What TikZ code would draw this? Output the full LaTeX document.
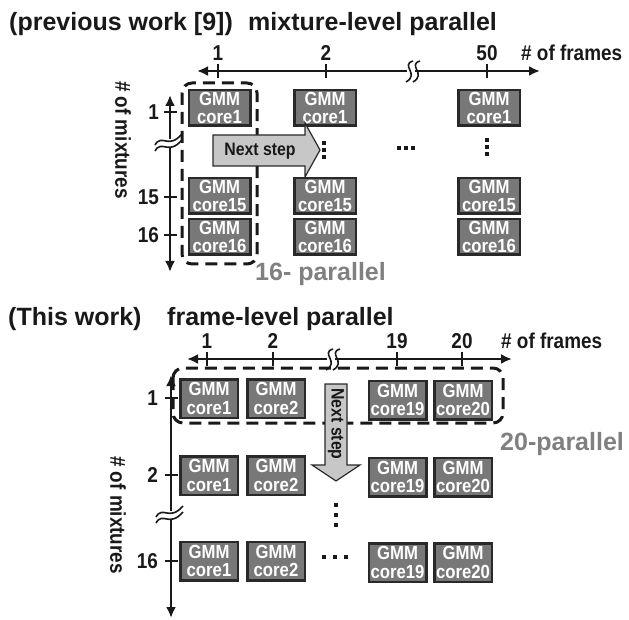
\documentclass[tikz,border=0pt]{standalone}
\usepackage{fontspec}
\setmainfont{Liberation Sans}
\newfontfamily\narrowsans[FakeStretch=0.88]{Liberation Sans}
\usetikzlibrary{arrows.meta}
\definecolor{boxgray}{gray}{0.47}
\definecolor{boxedge}{gray}{0.16}
\definecolor{txtgray}{gray}{0.5}
\definecolor{arrowfill}{gray}{0.78}
\definecolor{ink}{gray}{0.1}
\begin{document}
\begin{tikzpicture}[x=1pt,y=-1pt,
  core/.style={draw=boxedge, line width=2.5pt, fill=boxgray, text=white,
    font=\narrowsans\fontsize{19}{18.5}\selectfont\bfseries, align=center, inner sep=0pt},
  topcore/.style={core, minimum width=61.5pt, minimum height=35.5pt},
  botcore/.style={core, minimum width=57.5pt, minimum height=38.5pt},
  axis/.style={draw=ink, line width=2.5pt, {Latex[length=11pt,width=10pt]}-{Latex[length=11pt,width=10pt]}},
  tickmark/.style={draw=ink, line width=1.5pt},
  lbl/.style={font=\narrowsans\fontsize{21.5}{21.5}\selectfont\bfseries, text=ink, inner sep=1pt},
  title/.style={font=\fontsize{25}{25}\selectfont\bfseries, text=ink, anchor=base west, inner sep=0pt},
  group/.style={draw=ink, line width=3pt, dash pattern=on 12pt off 7pt, rounded corners=10pt},
  partext/.style={font=\fontsize{25}{25}\selectfont\bfseries, text=txtgray, inner sep=0pt, anchor=base west},
  nextarrow/.style={draw=boxedge, line width=1.2pt, fill=arrowfill},
  nexttext/.style={font=\narrowsans\fontsize{18}{18}\selectfont\bfseries, text=ink, inner sep=0pt},
  brk/.style={draw=ink, line width=1.6pt},
  hbreak/.pic={
    \fill[white] (-3,-5) rectangle (5,5);
    \draw[brk] (3,-10) .. controls (-10,-6) and (10,3) .. (-4,11);
    \draw[brk] (10,-10) .. controls (-3,-6) and (17,3) .. (3,11);
  },
  vbreak/.pic={
    \fill[white] (-4,-4) rectangle (4,4);
    \draw[brk] (-15,2) .. controls (-8,-10) and (-2,7) .. (12,-9);
    \draw[brk] (-15,8) .. controls (-8,-4) and (-2,13) .. (12,-3);
  },
  dot/.style={fill=ink, minimum size=3.5pt, inner sep=0pt, shape=rectangle},
]
\useasboundingbox (0,0) rectangle (629,620);

% ===================== TOP PART =====================
\node[title] (title1a) at (9,31) {(previous work [9])};
\node[title] (title1b) at (248,31) {mixture-level parallel};

% horizontal axis
\coordinate (hA1) at (197,71);
\coordinate (hB1) at (540,71);
\draw[axis] (hA1) -- (hB1);
\foreach \x/\l in {218/1, 326/2, 487/50}{
  \draw[tickmark] (\x,64) -- (\x,78);
  \node[lbl, anchor=south] (tx\l) at (\x,62) {\l};
}
\node[lbl, anchor=south west] (tframes1) at (520,62) {\# of frames};
\pic at (410,71) {hbreak};

% vertical axis
\coordinate (vA1) at (170,95);
\coordinate (vB1) at (170,272);
\draw[axis] (vA1) -- (vB1);
\foreach \y/\l in {112/1, 197/15, 235/16}{
  \draw[tickmark] (164,\y) -- (177,\y);
  \node[lbl, anchor=east] (ty\l) at (160,\y) {\l};
}
\node[lbl, rotate=-90] (tmix1) at (123,140) {\# of mixtures};
\pic at (170,143) {vbreak};

% cores
\foreach \c/\x in {a/219.5, b/325, c/489}{
  \node[topcore] (p\c1) at (\x,108) {GMM\\core1};
  \node[topcore] (p\c15) at (\x,196) {GMM\\core15};
  \node[topcore] (p\c16) at (\x,237) {GMM\\core16};
}

% dashed group
\draw[group] (182,83) rectangle (257,264);

% next step arrow
\draw[nextarrow] (213,135) -- (305,135) -- (305,123) -- (320,150) -- (305,177) -- (305,166) -- (213,166) -- cycle;
\node[nexttext] (ns1) at (260,151) {Next step};

% dots
\foreach \y in {143,150,157} \node[dot] at (324,\y) {};
\foreach \x in {399,406,413} \node[dot] at (\x,148) {};
\foreach \y in {140,147,154} \node[dot] at (487,\y) {};

\node[partext] (par16) at (255,281) {16- parallel};

% ===================== BOTTOM PART =====================
\node[title] (title2a) at (8,325) {(This work)};
\node[title] (title2b) at (167,325) {frame-level parallel};

\coordinate (hA2) at (187,359);
\coordinate (hB2) at (512,359);
\draw[axis] (hA2) -- (hB2);
\foreach \x/\l in {207/1, 273/2, 397/19, 462/20}{
  \draw[tickmark] (\x,352) -- (\x,366);
  \node[lbl, anchor=south] (bx\l) at (\x,350) {\l};
}
\node[lbl, anchor=south west] (tframes2) at (500,350) {\# of frames};

% dashed group
\draw[group] (173,368) rectangle (503,423);
\pic at (330,359) {hbreak};

\coordinate (vA2) at (171,375);
\coordinate (vB2) at (171,618);
\draw[axis] (vA2) -- (vB2);
\foreach \y/\l in {398/1, 475/2, 561/16}{
  \draw[tickmark] (165,\y) -- (178,\y);
  \node[lbl, anchor=east] (by\l) at (159,\y) {\l};
}
\node[lbl, rotate=-90] (tmix2) at (118,515) {\# of mixtures};
\pic at (171,515) {vbreak};

\foreach \r/\y in {1/398.5, 2/475.5, 16/561}{
  \node[botcore] (q\r a) at (209,\y) {GMM\\core1};
  \node[botcore] (q\r b) at (276,\y) {GMM\\core2};
  \node[botcore] (q\r c) at (397.5,\y+1.5) {GMM\\core19};
  \node[botcore] (q\r d) at (463,\y+1.5) {GMM\\core20};
}

% next step arrow (down)
\draw[nextarrow] (325,384) -- (347,384) -- (347,465) -- (360,465) -- (336,481) -- (312,465) -- (325,465) -- cycle;
\node[nexttext, rotate=-90] (ns2) at (336,424) {Next step};

\foreach \y in {505,515,525} \node[dot, minimum size=4pt] at (336,\y) {};
\foreach \x in {324,335,346} \node[dot, minimum size=4pt] at (\x,557) {};

\node[partext] (par20) at (500,450) {20-parallel};
\end{tikzpicture}
\end{document}
